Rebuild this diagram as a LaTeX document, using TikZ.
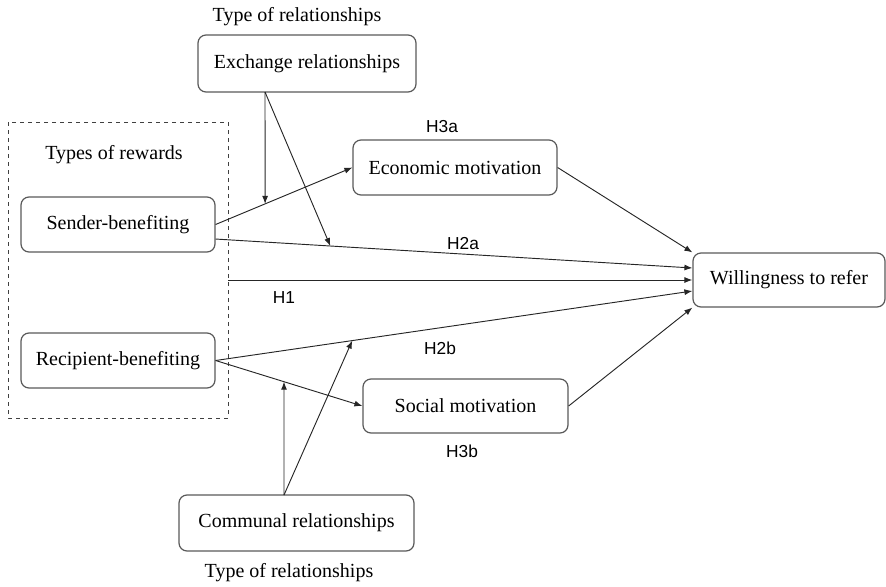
\documentclass[tikz,border=0pt]{standalone}
\usepackage{fontspec}
\setmainfont{Liberation Serif}
\newfontfamily\hfont{Liberation Sans}
\usetikzlibrary{arrows.meta,calc}
\begin{document}
\begin{tikzpicture}[x=0.75pt,y=-0.75pt,
  box/.style={draw=black!65,line width=0.9pt,rounded corners=6pt,inner sep=0pt,
    font=\fontsize{15}{17}\selectfont},
  lbl/.style={font=\fontsize{15}{17}\selectfont,inner sep=0pt},
  hlbl/.style={font=\hfont\fontsize{13}{15}\selectfont,inner sep=0pt},
  conn/.style={draw=black!85,line width=0.7pt,-{Latex[length=6pt,width=4.5pt]}},
  plain/.style={draw=black!85,line width=0.7pt}]
\useasboundingbox (0,0) rectangle (886,586);
% dashed group
\draw[dashed,draw=black!75,line width=0.7pt] (8,122) rectangle (228,418);
% boxes
\node[box,minimum width=163.5pt,minimum height=42.75pt] (ex) at (307,63.5) {Exchange relationships};
\node[box,minimum width=145.5pt,minimum height=41.25pt] (send) at (118,224.5) {Sender-benefiting};
\node[box,minimum width=145.5pt,minimum height=41.25pt] (rec) at (118,360.5) {Recipient-benefiting};
\node[box,minimum width=153pt,minimum height=41.25pt] (eco) at (455,167.5) {Economic motivation};
\node[box,minimum width=153.75pt,minimum height=40.5pt] (soc) at (465.5,406) {Social motivation};
\node[box,minimum width=144pt,minimum height=40.5pt] (will) at (789,280) {Willingness to refer};
\node[box,minimum width=176.25pt,minimum height=42pt] (com) at (296.5,523) {Communal relationships};
% texts
\node[lbl] (t1) at (297,17) {Type of relationships};
\node[lbl] (t2) at (114,155) {Types of rewards};
\node[lbl] (t3) at (289,573) {Type of relationships};
\node[hlbl] (h3a) at (442,127) {H3a};
\node[hlbl] (h2a) at (463,244) {H2a};
\node[hlbl] (h1) at (284,298) {H1};
\node[hlbl] (h2b) at (440,348) {H2b};
\node[hlbl] (h3b) at (462,451) {H3b};
% coordinates
\coordinate (exo) at (265,92);
\coordinate (como) at (284,495);
\coordinate (h1s) at (228,280);
% main connectors
\draw[conn] (send.east) -- coordinate[pos=0.362] (p1) (eco.west);
\draw[conn] ([yshift=-10.9pt]send.east) -- coordinate[pos=0.2406] (p2) ([yshift=9pt]will.west);
\draw[conn] (h1s) -- (will.west);
\draw[conn] (rec.east) -- coordinate[pos=0.2866] (p4) ([yshift=-8.25pt]will.west);
\draw[conn] (rec.east) -- coordinate[pos=0.466] (p3) (soc.west);
\draw[conn] (eco.east) -- (will.north west);
\draw[conn] (soc.east) -- (will.south west);
% moderators
\draw[conn] (exo) -- (p1);
\draw[conn] (exo) -- (p2);
\draw[conn] (como) -- (p3);
\draw[conn] (como) -- (p4);
\end{tikzpicture}
\end{document}
